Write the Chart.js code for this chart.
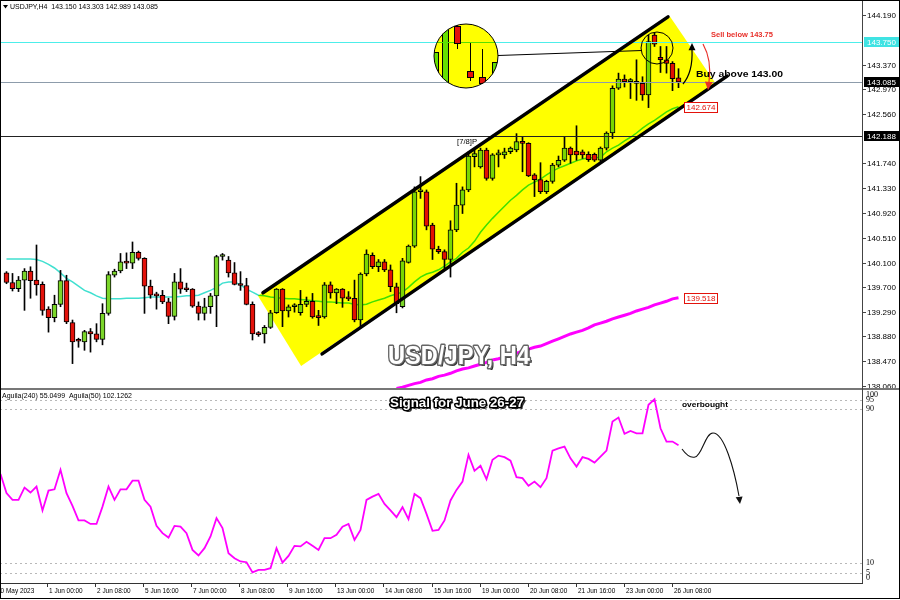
<!DOCTYPE html>
<html>
<head>
<meta charset="utf-8">
<title>USDJPY H4</title>
<script src="https://cdn.jsdelivr.net/npm/chart.js@4.4.1/dist/chart.umd.min.js"></script>
<style>
  body { margin: 0; background: #fff; }
  #wrap { position: relative; width: 900px; height: 600px; overflow: hidden; background: #fff; }
  canvas { position: absolute; left: 0; }
  #price { top: 0; }
  #osc { top: 388px; }
  #frame { position: absolute; left: 0; top: 0; width: 898px; height: 597px; border: 1px solid #000; pointer-events: none; }
</style>
</head>
<body>
<div id="wrap">
  <canvas id="price" width="900" height="388"></canvas>
  <canvas id="osc" width="900" height="212"></canvas>
  <div id="frame"></div>
</div>
<script>
// H4 candles, first bar 30 May 20:00, last bar 26 Jun 16:00
const opens = [139.93,139.77,139.67,139.81,139.96,139.81,139.74,139.33,139.19,139.41,
  139.80,139.11,138.81,138.79,138.96,138.92,138.83,139.26,139.89,139.96,
  140.11,140.09,140.27,140.17,139.71,139.56,139.56,139.45,139.21,139.78,
  139.66,139.66,139.38,139.26,139.37,139.55,140.20,140.14,139.93,139.74,
  139.72,139.41,138.92,138.92,139.03,139.27,139.66,139.30,139.37,139.27,
  139.41,139.46,139.20,139.20,139.73,139.60,139.66,139.51,139.51,139.15,
  139.91,140.22,140.03,140.11,139.98,139.70,139.37,140.10,140.37,141.27,
  141.27,140.72,140.32,140.28,140.15,140.64,141.05,141.30,141.85,141.68,
  141.96,141.49,141.88,141.88,141.93,141.96,142.10,142.07,141.55,141.47,
  141.27,141.44,141.71,141.79,141.99,141.94,141.93,141.89,141.89,141.79,
  141.99,142.24,142.98,143.13,143.09,143.09,143.06,142.87,143.86,143.49,
  143.45,143.39,143.150];
const highs = [139.95,139.92,139.87,140.00,140.03,140.39,139.78,139.37,139.56,139.97,
  139.89,139.15,138.85,138.98,139.01,139.09,139.42,139.95,139.99,140.25,
  140.26,140.44,140.29,140.18,139.81,139.61,139.64,139.51,139.92,140.00,
  139.76,139.67,139.45,139.51,139.59,140.22,140.25,140.20,140.10,139.95,
  139.84,139.45,138.96,139.06,139.31,139.67,139.67,139.40,139.42,139.64,
  139.53,139.59,139.31,139.77,139.78,139.67,139.67,139.62,139.81,139.93,
  140.31,140.26,140.15,140.15,140.06,139.76,140.17,140.39,141.35,141.52,
  141.30,140.75,140.37,140.31,140.79,141.41,141.35,141.93,141.96,141.99,
  141.99,141.90,141.96,141.99,142.01,142.23,142.18,142.08,141.57,141.75,
  141.46,141.74,141.86,142.18,142.01,142.36,141.96,141.93,141.91,142.01,
  142.26,143.02,143.23,143.20,143.14,143.45,143.17,143.86,143.89,143.67,
  143.67,143.42,143.303];
const lows = [139.75,139.63,139.62,139.31,139.51,139.56,139.23,138.95,139.12,139.37,
  139.09,138.43,138.70,138.65,138.62,138.79,138.74,139.23,139.86,139.93,
  140.00,140.00,140.14,139.26,139.51,139.33,139.42,139.09,139.15,139.59,
  139.62,139.36,139.15,139.15,139.26,139.04,140.14,139.86,139.73,139.64,
  139.40,138.82,138.88,138.77,139.01,139.26,139.04,139.20,139.28,139.23,
  139.37,139.18,139.06,139.18,139.51,139.42,139.36,139.47,139.12,139.04,
  139.88,140.00,139.95,139.95,139.62,139.27,139.35,140.09,140.35,141.16,
  140.64,140.15,140.25,140.00,139.86,140.61,140.91,141.27,141.68,141.66,
  141.46,141.46,141.68,141.82,141.90,141.93,141.60,141.52,141.19,141.24,
  141.24,141.41,141.68,141.77,141.74,141.79,141.82,141.77,141.77,141.77,
  141.96,142.15,142.96,143.00,142.81,142.78,142.78,142.66,143.67,143.24,
  143.23,142.94,142.989];
const closes = [139.77,139.67,139.81,139.96,139.80,139.73,139.31,139.19,139.41,139.80,
  139.12,138.79,138.80,138.96,138.92,138.83,139.26,139.90,139.96,140.11,
  140.09,140.27,140.17,139.71,139.56,139.55,139.45,139.21,139.78,139.66,
  139.65,139.38,139.26,139.37,139.55,140.20,140.21,139.93,139.74,139.72,
  139.41,138.92,138.91,139.03,139.27,139.66,139.30,139.37,139.38,139.41,
  139.46,139.20,139.19,139.73,139.60,139.66,139.51,139.50,139.15,139.91,
  140.24,140.03,140.11,139.98,139.70,139.42,140.13,140.37,141.27,141.28,
  140.70,140.32,140.28,140.15,140.64,141.05,141.30,141.86,141.90,141.96,
  141.49,141.88,141.89,141.93,141.99,142.10,142.07,141.53,141.47,141.27,
  141.44,141.71,141.79,141.99,141.88,141.88,141.88,141.80,141.79,141.99,
  142.24,142.98,143.13,143.09,143.10,143.06,142.87,143.75,143.71,143.45,
  143.39,143.14,143.085];

// fast moving average (turquoise, green where it runs under the channel)
const fastMa = [140.16,140.16,140.16,140.16,140.16,140.15,140.12,140.07,140.01,139.93,
  139.84,139.78,139.71,139.64,139.60,139.55,139.51,139.50,139.50,139.50,
  139.51,139.51,139.51,139.52,139.53,139.53,139.53,139.53,139.53,139.54,
  139.55,139.55,139.56,139.60,139.64,139.69,139.76,139.78,139.78,139.73,
  139.66,139.61,139.56,139.55,139.53,139.52,139.51,139.50,139.50,139.49,
  139.48,139.47,139.46,139.45,139.45,139.44,139.43,139.43,139.41,139.40,
  139.41,139.45,139.48,139.51,139.55,139.58,139.61,139.69,139.78,139.86,
  139.91,139.94,139.98,140.04,140.11,140.17,140.27,140.34,140.45,140.60,
  140.72,140.83,140.93,141.03,141.13,141.21,141.30,141.38,141.43,141.48,
  141.55,141.61,141.66,141.70,141.74,141.78,141.81,141.83,141.83,141.84,
  141.93,141.99,142.04,142.11,142.17,142.24,142.32,142.39,142.45,142.52,
  142.59,142.64,142.674];

// slow moving average (magenta), starts at bar 65
const slowMaStart = 65;
const slowMa = [138.02,138.04,138.07,138.10,138.12,138.16,138.18,138.22,138.24,138.27,
  138.31,138.34,138.36,138.39,138.42,138.45,138.49,138.51,138.54,138.57,
  138.60,138.64,138.67,138.70,138.72,138.76,138.80,138.84,138.88,138.92,
  138.95,138.98,139.02,139.07,139.10,139.13,139.17,139.20,139.23,139.26,
  139.30,139.33,139.36,139.40,139.43,139.46,139.50,139.518];

// Aguila oscillator, starts one bar before the first candle
const oscStart = -1;
const osc = [56.4,46.4,42.9,42.9,49.3,46.7,49.8,37.4,47.7,48.4,
  58.5,46.4,39.8,32.2,32.2,30.4,30.4,39.4,49.8,42.9,
  48.4,48.4,52.9,52.9,42.9,39.4,29.4,25.6,23.3,29.4,
  29.0,25.6,16.9,14.0,17.8,23.9,33.4,28.2,15.2,12.6,
  10.9,10.5,5.2,6.5,6.5,7.4,17.8,10.3,13.8,19.0,
  18.7,21.1,19.0,16.9,23.0,23.0,24.7,29.0,30.4,22.1,
  27.3,42.9,44.6,46.0,40.8,37.4,33.9,39.1,32.9,46.0,
  43.8,35.6,26.8,27.3,32.2,42.6,48.1,52.4,66.3,58.0,
  60.6,53.6,63.7,65.9,65.1,63.3,54.7,54.2,50.2,52.4,
  49.5,54.2,68.5,69.7,70.6,64.5,60.2,65.1,64.2,62.3,
  65.4,68.5,83.6,85.7,77.2,78.7,77.5,77.5,92.3,95.2,
  80.1,73.2,73.2,71.3];

const priceTicks = [144.190,143.370,142.970,142.560,141.740,141.330,140.920,140.510,140.100,139.700,139.290,138.880,138.470,138.060];
const oscTicks = [100, 95, 90, 10, 5, 0];
const oscLevels = [95, 90, 10, 5];
const timeTickIdx = [7,15,23,31,39,47,55,63,71,79,87,95,103,111];
const timeTickLabels = ['1 Jun 00:00','2 Jun 08:00','5 Jun 16:00','7 Jun 00:00','8 Jun 08:00','9 Jun 16:00','13 Jun 00:00','14 Jun 08:00','15 Jun 16:00','19 Jun 00:00','20 Jun 08:00','21 Jun 16:00','23 Jun 00:00','26 Jun 08:00'];

// horizontal levels: sell level, current price, [7/8] level
const levelValues = [143.750, 143.085, 142.188];

// channel drawn on the chart, [bar index, price]
const channelBox = [[41.9,139.55],[110.6,144.16],[118.25,143.05],[49.1,138.39]];
const upperLine = [[42.75,139.60],[110.25,144.16]];
const lowerLine = [[52.6,138.59],[120.1,143.18]];

const GREEN = '#7bd62a', RED = '#e3120b';
const F = '"Liberation Sans", Arial, sans-serif';
const X_MIN = -1.0833, X_MAX = 142.5833;

Chart.defaults.animation = false;
Chart.defaults.responsive = false;
Chart.defaults.events = [];
Chart.defaults.plugins.legend.display = false;
Chart.defaults.plugins.tooltip.enabled = false;

function fitText(ctx, txt, x, y, w, align) {
  const m = ctx.measureText(txt).width;
  const s = w ? w / m : 1;
  const left = align === 'center' ? x - m * s / 2 : x;
  ctx.save();
  ctx.translate(left, y);
  ctx.scale(s, 1);
  ctx.textAlign = 'left';
  ctx.fillText(txt, 0, 0);
  ctx.restore();
}

function outlineText(ctx, txt, cx, y, w, lw, edge) {
  const m = ctx.measureText(txt).width;
  const s = w / m;
  ctx.save();
  ctx.translate(cx - w / 2, y);
  ctx.scale(s, 1);
  ctx.textAlign = 'left';
  ctx.lineJoin = 'round';
  ctx.fillStyle = '#333';
  ctx.fillText(txt, 2, 2);
  ctx.strokeStyle = edge;
  ctx.lineWidth = lw;
  ctx.strokeText(txt, 0, 0);
  ctx.fillStyle = '#fff';
  ctx.fillText(txt, 0, 0);
  ctx.restore();
}

function arrowHead(ctx, tipX, tipY, ang, size) {
  ctx.beginPath();
  ctx.moveTo(tipX, tipY);
  ctx.lineTo(tipX - size * Math.cos(ang - 0.45), tipY - size * Math.sin(ang - 0.45));
  ctx.lineTo(tipX - size * Math.cos(ang + 0.45), tipY - size * Math.sin(ang + 0.45));
  ctx.closePath();
  ctx.fill();
}

// magnified copy of the top candles
function drawLens(ctx) {
  const cx = 466, cy = 56, r = 32;
  ctx.save();
  ctx.beginPath();
  ctx.arc(cx, cy, r, 0, Math.PI * 2);
  ctx.fillStyle = '#ffff00';
  ctx.fill();
  ctx.clip();
  ctx.strokeStyle = '#000';
  ctx.lineWidth = 1;
  const body = (x, y0, y1, col) => {
    ctx.fillStyle = col;
    ctx.fillRect(x, y0, 7, y1 - y0);
    ctx.strokeRect(x + 0.5, y0 + 0.5, 6, y1 - y0 - 1);
  };
  const wick = (x, y0, y1) => { ctx.beginPath(); ctx.moveTo(x, y0); ctx.lineTo(x, y1); ctx.stroke(); };
  body(432, 52, 96, '#66e000');
  wick(445.5, 20, 30);
  body(442, 27, 96, '#66e000');
  ctx.strokeStyle = '#55e000';
  ctx.beginPath(); ctx.moveTo(430, 42.5); ctx.lineTo(500, 42.5); ctx.stroke();
  ctx.strokeStyle = '#000';
  wick(457.5, 22, 49);
  body(454, 26, 44, RED);
  wick(470.5, 43, 81);
  body(467, 71, 78, RED);
  wick(482.5, 49, 88);
  body(479, 77, 84, RED);
  body(492, 62, 79, '#66e000');
  ctx.restore();
  ctx.beginPath();
  ctx.arc(cx, cy, r, 0, Math.PI * 2);
  ctx.strokeStyle = '#000';
  ctx.lineWidth = 1;
  ctx.stroke();
  ctx.beginPath();
  ctx.moveTo(498, 55.5); ctx.lineTo(642, 50.5);
  ctx.stroke();
  ctx.beginPath();
  ctx.arc(657, 48, 16, 0, Math.PI * 2);
  ctx.stroke();
}

const priceDecor = {
  id: 'priceDecor',
  beforeDraw(c) {
    c.ctx.save();
    c.ctx.fillStyle = '#fff';
    c.ctx.fillRect(0, 0, c.width, c.height);
    c.ctx.restore();
  },
  afterDatasetsDraw(c) {
    const { ctx, scales: { x, y }, chartArea: a } = c;
    const X = v => x.getPixelForValue(v), Y = v => y.getPixelForValue(v);
    ctx.save();
    // yellow channel, multiplied so the moving average below turns green
    ctx.globalCompositeOperation = 'multiply';
    ctx.fillStyle = '#ffff00';
    ctx.beginPath();
    channelBox.forEach(([i, p], k) => k ? ctx.lineTo(X(i), Y(p)) : ctx.moveTo(X(i), Y(p)));
    ctx.closePath();
    ctx.fill();
    ctx.globalCompositeOperation = 'source-over';

    // horizontal levels
    const levelColors = ['#4deeea', '#8d9cab', '#222'];
    levelValues.forEach((v, k) => {
      const py = Math.round(Y(v)) + 0.5;
      ctx.strokeStyle = levelColors[k];
      ctx.lineWidth = 1;
      ctx.beginPath(); ctx.moveTo(a.left, py); ctx.lineTo(a.right, py); ctx.stroke();
    });

    // channel borders
    ctx.strokeStyle = '#000';
    ctx.lineWidth = 3.5;
    ctx.lineCap = 'round';
    [upperLine, lowerLine].forEach(l => {
      ctx.beginPath();
      ctx.moveTo(X(l[0][0]), Y(l[0][1]));
      ctx.lineTo(X(l[1][0]), Y(l[1][1]));
      ctx.stroke();
    });
    ctx.lineCap = 'butt';

    drawLens(ctx);

    // up arrow (black)
    ctx.strokeStyle = '#000'; ctx.fillStyle = '#000'; ctx.lineWidth = 1.2;
    ctx.beginPath(); ctx.moveTo(683, 84); ctx.quadraticCurveTo(693, 72, 692, 50); ctx.stroke();
    arrowHead(ctx, 692, 43, -Math.PI / 2, 8);
    // down arrow (red)
    ctx.strokeStyle = '#e8302a'; ctx.fillStyle = '#e8302a';
    ctx.beginPath(); ctx.moveTo(703, 44); ctx.quadraticCurveTo(712, 60, 709, 82); ctx.stroke();
    arrowHead(ctx, 708, 90, Math.PI / 2 + 0.1, 9);

    ctx.textBaseline = 'middle';
    ctx.fillStyle = '#e8302a';
    ctx.font = 'bold 8px ' + F;
    fitText(ctx, 'Sell below 143.75', 711, 35, 62);
    ctx.fillStyle = '#000';
    ctx.font = 'bold 9px ' + F;
    fitText(ctx, 'Buy above 143.00', 696, 75, 87);
    ctx.font = '8px ' + F;
    fitText(ctx, '[7/8]P', 457, 141.5, 20);

    // header
    ctx.font = '8px ' + F;
    fitText(ctx, 'USDJPY,H4  143.150 143.303 142.989 143.085', 10, 6.5, 148);
    ctx.beginPath(); ctx.moveTo(3, 5); ctx.lineTo(8, 5); ctx.lineTo(5.5, 8.5); ctx.closePath(); ctx.fill();

    // moving average value tags
    const last = opens.length - 1;
    [[fastMa[fastMa.length - 1], '#e3120b'], [slowMa[slowMa.length - 1], '#e3120b']].forEach(([v, col]) => {
      const bx = Math.round(X(last)) + 5.5, by = Math.round(Y(v)) - 4.5;
      ctx.fillStyle = '#fff';
      ctx.fillRect(bx, by, 33, 10);
      ctx.strokeStyle = col; ctx.lineWidth = 1;
      ctx.strokeRect(bx, by, 33, 10);
      ctx.fillStyle = col;
      ctx.font = '8px ' + F;
      fitText(ctx, v.toFixed(3), bx + 2, by + 5.5, 29);
    });

    ctx.font = 'bold 26px ' + F;
    outlineText(ctx, 'USD/JPY, H4', 459, 357, 142, 3, '#666');
    ctx.restore();
  },
  afterDraw(c) {
    const { ctx, scales: { y }, chartArea: a } = c;
    const Y = v => y.getPixelForValue(v);
    ctx.save();
    ctx.strokeStyle = '#444';
    ctx.lineWidth = 1;
    ctx.beginPath(); ctx.moveTo(a.right + 0.5, 0); ctx.lineTo(a.right + 0.5, a.bottom); ctx.stroke();
    ctx.font = '8px ' + F;
    ctx.textBaseline = 'middle';
    ctx.fillStyle = '#000';
    priceTicks.forEach(v => {
      const py = Math.round(Y(v)) + 0.5;
      ctx.beginPath(); ctx.moveTo(a.right, py); ctx.lineTo(a.right + 4, py); ctx.stroke();
      fitText(ctx, v.toFixed(3), a.right + 5, py, 29);
    });
    const boxBg = ['#3fe3e3', '#000', '#000'];
    levelValues.forEach((v, k) => {
      const py = Math.round(Y(v));
      ctx.fillStyle = boxBg[k];
      ctx.fillRect(a.right + 2, py - 5, 36, 10);
      ctx.fillStyle = '#fff';
      fitText(ctx, v.toFixed(3), a.right + 5, py + 0.5, 29);
    });
    ctx.restore();
  }
};

const oscDecor = {
  id: 'oscDecor',
  beforeDraw(c) {
    c.ctx.save();
    c.ctx.fillStyle = '#fff';
    c.ctx.fillRect(0, 0, c.width, c.height);
    c.ctx.restore();
  },
  beforeDatasetsDraw(c) {
    const { ctx, scales: { y }, chartArea: a } = c;
    ctx.save();
    ctx.strokeStyle = '#b8b8b8';
    ctx.setLineDash([2, 3]);
    ctx.lineWidth = 1;
    oscLevels.forEach(v => {
      const py = Math.round(y.getPixelForValue(v)) + 0.5;
      ctx.beginPath(); ctx.moveTo(a.left, py); ctx.lineTo(a.right, py); ctx.stroke();
    });
    ctx.restore();
  },
  afterDraw(c) {
    const { ctx, scales: { x, y }, chartArea: a } = c;
    ctx.save();
    // panel separator
    ctx.fillStyle = '#777';
    ctx.fillRect(0, 0, c.width, 2);
    // right axis
    ctx.strokeStyle = '#444';
    ctx.lineWidth = 1;
    ctx.beginPath(); ctx.moveTo(a.right + 0.5, 0); ctx.lineTo(a.right + 0.5, a.bottom); ctx.stroke();
    ctx.textBaseline = 'middle';
    ctx.fillStyle = '#000';
    ctx.font = '8px "Liberation Serif", serif';
    oscTicks.forEach(v => {
      const py = Math.min(Math.max(y.getPixelForValue(v), 7), 189.5);
      fitText(ctx, String(v), a.right + 4, py);
    });
    // time axis
    ctx.strokeStyle = '#333';
    ctx.beginPath(); ctx.moveTo(0, a.bottom + 0.5); ctx.lineTo(a.right + 1, a.bottom + 0.5); ctx.stroke();
    ctx.font = '7.5px ' + F;
    timeTickIdx.forEach((i, k) => {
      const px = Math.round(x.getPixelForValue(i)) - 0.5;
      ctx.beginPath(); ctx.moveTo(px, a.bottom); ctx.lineTo(px, a.bottom + 4); ctx.stroke();
      const t = timeTickLabels[k];
      fitText(ctx, t, px + 1.5, a.bottom + 8, ctx.measureText(t).width * 0.86);
    });
    fitText(ctx, '30 May 2023', x.getPixelForValue(oscStart) - 3.5, a.bottom + 8, ctx.measureText('30 May 2023').width * 0.86);

    // header and notes
    ctx.font = '7.5px ' + F;
    fitText(ctx, 'Aguila(240) 55.0499  Aguila(50) 102.1262', 2, 8, 130);
    ctx.font = 'bold 8px ' + F;
    fitText(ctx, 'overbought', 682, 17, 46);
    ctx.font = 'bold 13px ' + F;
    outlineText(ctx, 'Signal for June 26-27', 457, 15, 134, 3, '#000');

    // expected path
    ctx.strokeStyle = '#111'; ctx.fillStyle = '#111'; ctx.lineWidth = 1.1;
    ctx.beginPath();
    ctx.moveTo(682, 61);
    ctx.bezierCurveTo(687, 68, 691, 70, 695, 69);
    ctx.bezierCurveTo(702, 68, 705, 45, 713, 45);
    ctx.bezierCurveTo(724, 45, 734, 80, 739, 108);
    ctx.stroke();
    arrowHead(ctx, 740, 116, Math.PI / 2 - 0.12, 8);
    ctx.restore();
  }
};

const idx = opens.map((_, i) => i);
const xScale = { type: 'linear', min: X_MIN, max: X_MAX, display: false, offset: false };

new Chart(document.getElementById('price'), {
  type: 'bar',
  data: {
    datasets: [
      { type: 'line', data: fastMa.map((v, i) => ({ x: i, y: v })), borderColor: '#40e0d0', borderWidth: 1.5, pointRadius: 0, order: 5 },
      { type: 'line', data: slowMa.map((v, i) => ({ x: i + slowMaStart, y: v })), borderColor: '#ff00ff', borderWidth: 3, pointRadius: 0, order: 5 },
      { data: idx.map(i => ({ x: i, y: [lows[i], highs[i]] })), backgroundColor: '#000', barThickness: 1, grouped: false, order: 2 },
      { data: idx.map(i => ({ x: i, y: [opens[i], closes[i]] })),
        backgroundColor: c => closes[c.dataIndex] >= opens[c.dataIndex] ? GREEN : RED,
        borderColor: '#000', borderWidth: 1, borderSkipped: false, barThickness: 5, minBarLength: 2, grouped: false, order: 1 }
    ]
  },
  options: {
    layout: { padding: { left: 0, right: 38, top: 0, bottom: 0 } },
    scales: {
      x: xScale,
      y: { type: 'linear', min: 138.027, max: 144.438, display: false }
    }
  },
  plugins: [priceDecor]
});

new Chart(document.getElementById('osc'), {
  type: 'line',
  data: {
    datasets: [
      { data: osc.map((v, k) => ({ x: k + oscStart, y: v })), borderColor: '#ff00ff', borderWidth: 1.8, pointRadius: 0 }
    ]
  },
  options: {
    layout: { padding: { left: 0, right: 38, top: 2, bottom: 17 } },
    scales: {
      x: xScale,
      y: { type: 'linear', min: -0.3, max: 100, display: false }
    }
  },
  plugins: [oscDecor]
});
</script>
</body>
</html>
